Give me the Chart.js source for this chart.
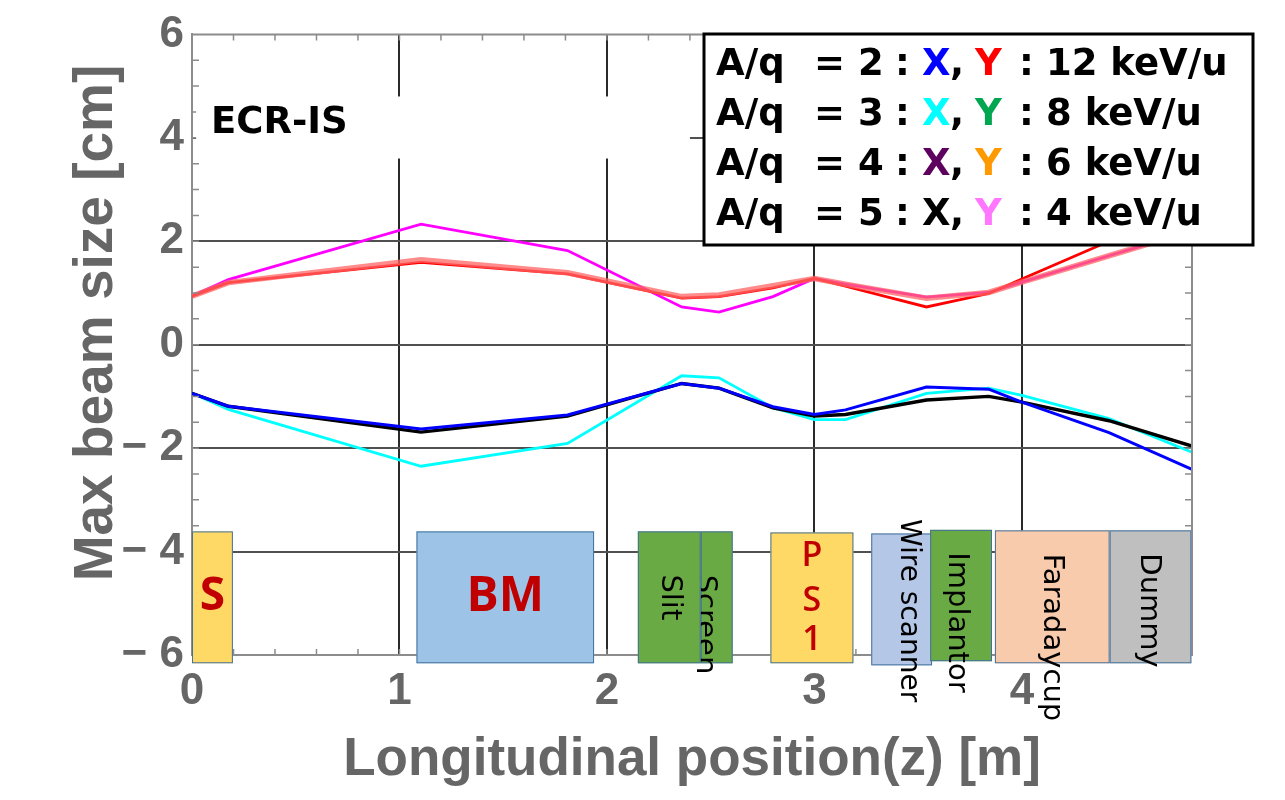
<!DOCTYPE html>
<html>
<head>
<meta charset="utf-8">
<script src="https://cdn.jsdelivr.net/npm/chart.js@4.4.1/dist/chart.umd.min.js"></script>
<style>
  html, body { margin: 0; background: #fff; }
  canvas { display: block; }
</style>
</head>
<body>
<canvas id="beamChart" width="1285" height="800"></canvas>
<script>
// longitudinal positions of the envelope vertices [m]
const zPos = [0, 0.175, 1.104, 1.81, 2.36, 2.54, 2.8, 3.0, 3.15, 3.54, 3.84, 4.0, 4.42, 4.82];

// Y envelopes (upper half) [cm]
const yRed     = [0.94, 1.20, 1.59, 1.37, 0.90, 0.93, 1.10, 1.28, 1.13, 0.73, 0.99, 1.27, 2.00, 2.70];
const ySalmon  = [0.94, 1.20, 1.64, 1.39, 0.93, 0.96, 1.14, 1.28, 1.17, 0.90, 1.01, 1.21, 1.72, 2.20];
const yMagenta = [0.94, 1.26, 2.33, 1.82, 0.73, 0.63, 0.93, 1.28, 1.17, 0.92, 1.01, 1.21, 1.72, 2.20];

// X envelopes (lower half) [cm]
const xBlue  = [-0.94, -1.19, -1.63, -1.36, -0.75, -0.84, -1.20, -1.35, -1.26, -0.82, -0.86, -1.11, -1.70, -2.41];
const xBlack = [-0.94, -1.19, -1.69, -1.38, -0.75, -0.84, -1.22, -1.38, -1.35, -1.07, -1.00, -1.11, -1.47, -1.96];
const xCyan  = [-0.94, -1.25, -2.35, -1.91, -0.60, -0.64, -1.22, -1.45, -1.45, -0.94, -0.84, -0.98, -1.43, -2.08];

const yTicks = [-6, -4, -2, 0, 2, 4, 6];
const zTicks = [0, 1, 2, 3, 4];

// beamline elements (drawn in this order)
const elemNames  = ['S', 'BM', 'Screen', 'Slit', 'PS1', 'Wire scanner', 'Implantor', 'Faradaycup', 'Dummy'];
const elemStart  = [0.0, 1.082, 2.452, 2.149, 2.788, 3.274, 3.558, 3.870, 4.423];
const elemEnd    = [0.197, 1.938, 2.606, 2.452, 3.188, 3.567, 3.856, 4.423, 4.817];
const elemTop    = [-3.61, -3.61, -3.61, -3.61, -3.63, -3.65, -3.58, -3.59, -3.59];
const elemBottom = [-6.16, -6.16, -6.16, -6.16, -6.16, -6.20, -6.12, -6.16, -6.16];

// legend rows
const legendMass   = ['2', '3', '4', '5'];
const legendEnergy = ['12', '8', '6', '4'];
const legendXColor = ['#0000ff', '#00ffff', '#5e005e', '#000000'];
const legendYColor = ['#ff0000', '#00a650', '#ff9900', '#ff77ff'];

const labelFont = '29px "DejaVu Sans"';
const elemStyle = {
  'S':            { fill: '#ffd966', text: 'S',  color: '#c00000', font: 'bold 46px "Open Sans"' },
  'BM':           { fill: '#9dc3e6', text: 'BM', color: '#c00000', font: 'bold 48px "Open Sans"' },
  'Screen':       { fill: '#6aaa45', text: 'Screen', color: '#000', font: labelFont, rot: true, at: [2.471, -5.41] },
  'Slit':         { fill: '#6aaa45', text: 'Slit', color: '#000', font: labelFont, rot: true },
  'PS1':          { fill: '#ffd966', stack: ['P', 'S', '1'], color: '#c00000', font: '600 34px "Open Sans"' },
  'Wire scanner': { fill: '#b4c7e7', text: 'Wire scanner', color: '#000', font: '28px "DejaVu Sans"', rot: true, at: [3.452, -5.14] },
  'Implantor':    { fill: '#6aaa45', text: 'Implantor', color: '#000', font: labelFont, rot: true, at: [3.683, -5.37] },
  'Faradaycup':   { fill: '#f8cbad', text: 'Faradaycup', color: '#000', font: labelFont, rot: true, at: [4.144, -5.66] },
  'Dummy':        { fill: '#bfbfbf', text: 'Dummy', color: '#000', font: labelFont, rot: true, at: [4.611, -5.14] }
};

const toPoints = ys => ys.map((v, i) => ({ x: zPos[i], y: v }));

const lineSet = (label, ys, color, width) => ({
  label,
  data: toPoints(ys),
  borderColor: color,
  borderWidth: width,
  pointRadius: 0,
  tension: 0,
  fill: false
});

const decor = {
  id: 'decor',
  afterDraw(chart) {
    const { ctx, chartArea: a, scales: { x, y } } = chart;
    ctx.save();

    // top / right frame and minor ticks
    ctx.strokeStyle = '#8c8c8c';
    ctx.lineWidth = 2;
    ctx.beginPath();
    ctx.moveTo(a.left, a.top);
    ctx.lineTo(a.right, a.top);
    ctx.lineTo(a.right, a.bottom);
    ctx.stroke();
    ctx.lineWidth = 1.5;
    ctx.beginPath();
    for (let i = 1; i <= 24; i++) {
      const px = x.getPixelForValue(i * 0.2);
      ctx.moveTo(px, a.bottom); ctx.lineTo(px, a.bottom - 6);
      ctx.moveTo(px, a.top); ctx.lineTo(px, a.top + 6);
    }
    for (let i = 1; i < 24; i++) {
      const py = y.getPixelForValue(-6 + i * 0.5);
      ctx.moveTo(a.left, py); ctx.lineTo(a.left + 7, py);
      ctx.moveTo(a.right, py); ctx.lineTo(a.right - 7, py);
    }
    ctx.stroke();

    // ECR-IS label on white
    ctx.fillStyle = '#fff';
    ctx.fillRect(x.getPixelForValue(0.02), y.getPixelForValue(4.8), x.getPixelForValue(2.4) - x.getPixelForValue(0.02), y.getPixelForValue(3.6) - y.getPixelForValue(4.8));
    ctx.fillStyle = '#000';
    ctx.font = 'bold 37px "DejaVu Sans"';
    ctx.textBaseline = 'middle';
    ctx.textAlign = 'left';
    ctx.fillText('ECR-IS', 211, 123);

    // beamline elements
    elemNames.forEach((name, i) => {
      const st = elemStyle[name];
      const x0 = x.getPixelForValue(elemStart[i]);
      const x1 = x.getPixelForValue(elemEnd[i]);
      const y0 = y.getPixelForValue(elemTop[i]);
      const y1 = y.getPixelForValue(elemBottom[i]);
      ctx.fillStyle = st.fill;
      ctx.fillRect(x0, y0, x1 - x0, y1 - y0);
      ctx.strokeStyle = '#41719c';
      ctx.lineWidth = 1;
      ctx.strokeRect(x0 + 0.5, y0 + 0.5, x1 - x0 - 1, y1 - y0 - 1);

      let cx = (x0 + x1) / 2, cy = (y0 + y1) / 2;
      if (st.at) { cx = x.getPixelForValue(st.at[0]); cy = y.getPixelForValue(st.at[1]); }
      ctx.fillStyle = st.color;
      ctx.font = st.font;
      ctx.textAlign = 'center';
      ctx.textBaseline = 'middle';
      if (st.stack) {
        [-42, 3, 42].forEach((dy, k) => ctx.fillText(st.stack[k], cx, cy + dy));
      } else if (st.rot) {
        ctx.save();
        ctx.translate(cx, cy);
        ctx.rotate(Math.PI / 2);
        ctx.fillText(st.text, 0, 0);
        ctx.restore();
      } else {
        ctx.fillText(st.text, cx, cy);
      }
    });

    // legend box
    ctx.fillStyle = '#fff';
    ctx.fillRect(704, 34, 549, 211);
    ctx.strokeStyle = '#000';
    ctx.lineWidth = 3;
    ctx.strokeRect(704, 34, 549, 211);
    ctx.font = 'bold 37px "DejaVu Sans"';
    ctx.textAlign = 'left';
    ctx.textBaseline = 'middle';
    legendMass.forEach((m, i) => {
      const ty = 65 + i * 50;
      const parts = [
        ['A/q', 716, '#000'], ['=', 814, '#000'], [m, 858, '#000'], [':', 895, '#000'],
        ['X', 922, legendXColor[i]], [',', 950, '#000'], ['Y', 975, legendYColor[i]],
        [':', 1019, '#000'], [legendEnergy[i] + ' keV/u', 1046, '#000']
      ];
      parts.forEach(([t, px, c]) => { ctx.fillStyle = c; ctx.fillText(t, px, ty); });
    });

    // axis titles
    ctx.fillStyle = '#666';
    ctx.font = 'bold 53px "Liberation Sans"';
    ctx.textAlign = 'center';
    ctx.fillText('Longitudinal position(z) [m]', 692, 760);
    ctx.save();
    ctx.translate(97, 323);
    ctx.rotate(-Math.PI / 2);
    ctx.font = 'bold 55px "Liberation Sans"';
    ctx.fillText('Max beam size [cm]', 0, 0);
    ctx.restore();

    ctx.restore();
  }
};

new Chart(document.getElementById('beamChart'), {
  type: 'line',
  data: {
    datasets: [
      lineSet('A/q=2 X', xBlue, '#0000ff', 3),
      lineSet('A/q=4 X', xBlack, '#000000', 3.4),
      lineSet('A/q=3 X', xCyan, '#00ffff', 2.8),
      lineSet('Y (overlap)', ySalmon, 'rgba(255,100,100,0.75)', 5.5),
      lineSet('A/q=2 Y', yRed, '#ff0000', 2.8),
      lineSet('A/q=5 Y', yMagenta, '#ff00ff', 2.8)
    ]
  },
  options: {
    responsive: false,
    animation: false,
    layout: { padding: { left: 0, right: 93, top: 27, bottom: 0 } },
    plugins: { legend: { display: false }, tooltip: { enabled: false } },
    scales: {
      x: {
        type: 'linear',
        min: 0,
        max: 4.82,
        afterFit: s => { s.height = 145; },
        afterBuildTicks: s => { s.ticks = zTicks.map(v => ({ value: v })); },
        ticks: {
          padding: 10,
          color: '#666',
          font: { family: 'Liberation Sans', size: 44, weight: 'bold' },
          maxRotation: 0
        },
        grid: {
          drawTicks: false,
          color: c => (c.tick.value > 0 && c.tick.value < 4.8) ? '#2a2a2a' : 'rgba(0,0,0,0)',
          lineWidth: 2
        },
        border: { display: true, color: '#8c8c8c', width: 2 }
      },
      y: {
        min: -6,
        max: 6,
        afterFit: s => { s.width = 192; },
        afterBuildTicks: s => { s.ticks = yTicks.map(v => ({ value: v })); },
        ticks: {
          padding: 8,
          color: '#666',
          font: { family: 'Liberation Sans', size: 44, weight: 'bold' },
          callback: v => v < 0 ? '\u2212 ' + Math.abs(v) : String(v)
        },
        grid: {
          drawTicks: false,
          color: c => Math.abs(c.tick.value) < 6 ? '#505050' : 'rgba(0,0,0,0)',
          lineWidth: 2
        },
        border: { display: true, color: '#8c8c8c', width: 2 }
      }
    }
  },
  plugins: [decor]
});
</script>
</body>
</html>
